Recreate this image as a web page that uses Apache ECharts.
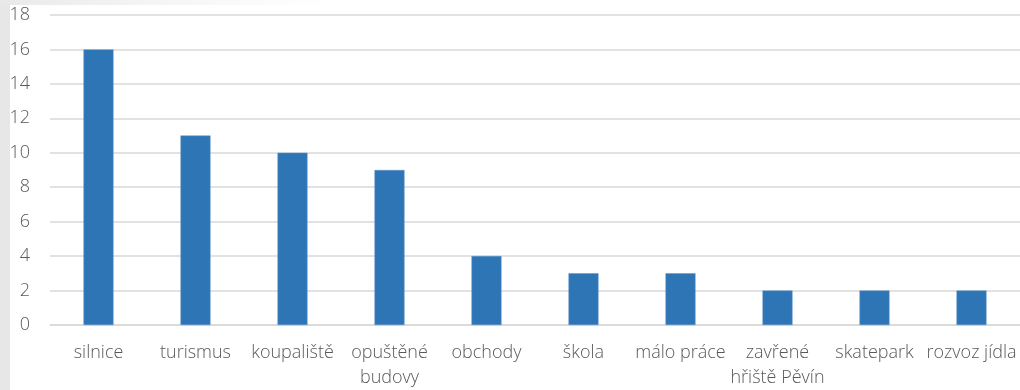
<!DOCTYPE html>
<html>
<head>
<meta charset="utf-8">
<script src="https://cdn.jsdelivr.net/npm/echarts@6/dist/echarts.min.js"></script>
<style>
  html, body { margin: 0; padding: 0; background: #ffffff; }
  #chart { width: 1020px; height: 390px; }
</style>
</head>
<body>
<div id="chart"></div>
<script>
// Categories and counts
const categories = ['silnice', 'turismus', 'koupaliště', 'opuštěné\nbudovy', 'obchody',
  'škola', 'málo práce', 'zavřené\nhřiště Pěvín', 'skatepark', 'rozvoz jídla'];
const counts = [16, 11, 10, 9, 4, 3, 3, 2, 2, 2];
const yTicks = { min: 0, max: 18, interval: 2 };

const textColor = '#595959';
const fontFamily = '"Open Sans", "Noto Sans", sans-serif';

const chart = echarts.init(document.getElementById('chart'), null, { renderer: 'canvas' });
chart.setOption({
  backgroundColor: '#ffffff',
  animation: false,
  graphic: [
    { type: 'rect', left: 0, top: 0, shape: { width: 10, height: 390 },
      style: { fill: '#e7e7e7' }, silent: true, z: -10 },
    { type: 'rect', left: 0, top: 0, shape: { width: 340, height: 5 },
      style: { fill: new echarts.graphic.LinearGradient(0, 0, 1, 0, [
        { offset: 0, color: '#e9e9e9' }, { offset: 1, color: 'rgba(240,240,240,0)' }]) },
      silent: true, z: -10 }
  ],
  grid: { left: 50, right: 0, top: 15, bottom: 59, containLabel: false },
  xAxis: {
    type: 'category',
    data: categories,
    axisLine: { show: true, lineStyle: { color: '#d9d9d9', width: 1.5 } },
    axisTick: { show: false },
    axisLabel: {
      color: textColor, fontFamily: fontFamily, fontWeight: 300, fontSize: 18,
      margin: 15, lineHeight: 25, interval: 0
    }
  },
  yAxis: {
    type: 'value',
    min: yTicks.min, max: yTicks.max, interval: yTicks.interval,
    axisLine: { show: false },
    axisTick: { show: false },
    splitLine: { lineStyle: { color: '#d9d9d9', width: 1.5 } },
    axisLabel: { color: textColor, fontFamily: fontFamily, fontWeight: 300, fontSize: 18, margin: 20 }
  },
  series: [{
    type: 'bar',
    data: counts,
    barWidth: 30,
    itemStyle: { color: '#2e75b6', borderColor: '#5b93c8', borderWidth: 0.5 }
  }]
});
</script>
</body>
</html>
